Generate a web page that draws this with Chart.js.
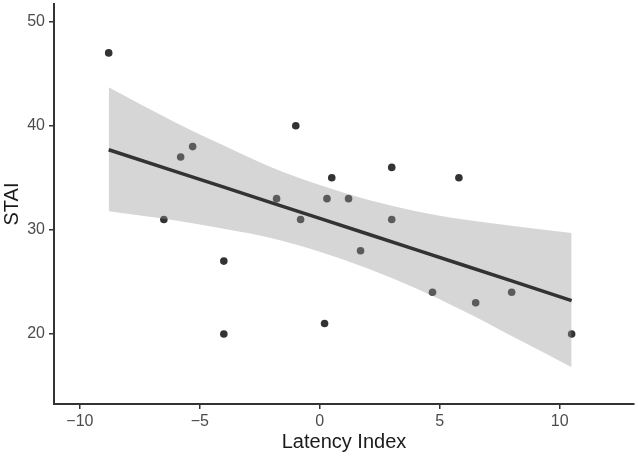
<!DOCTYPE html>
<html>
<head>
<meta charset="utf-8">
<script src="https://cdn.jsdelivr.net/npm/chart.js@4"></script>
<style>
  body { margin: 0; background: #fff; }
  #wrap { width: 638px; height: 456px; }
</style>
</head>
<body>
<div id="wrap"><canvas id="myChart"></canvas></div>
<script>
// observed points
const latencyX = [-8.8, -6.5, -5.8, -5.3, -4, -4, -1.8, -1, -0.8, 0.5, 0.3, 1.2, 3, 5.8, 3, 1.7, 0.2, 4.7, 6.5, 8, 10.5];
const staiY    = [47, 31, 37, 38, 27, 20, 33, 40, 31, 35, 33, 33, 36, 35, 31, 28, 21, 24, 23, 24, 20];

// fitted line + confidence band
const bandX     = [-8.8, -6, -4, -2, 0, 2, 4, 6, 8, 10.5];
const fitY      = [37.7, 35.6, 34.1, 32.6, 31.1, 29.6, 28.1, 26.6, 25.1, 23.2];
const bandUpper = [43.7, 40.3, 38.1, 36.0, 34.3, 32.9, 31.8, 31.0, 30.4, 29.7];
const bandLower = [31.8, 30.9, 30.1, 29.2, 27.9, 26.3, 24.4, 22.2, 19.8, 16.8];

const xTicks = [-10, -5, 0, 5, 10];
const yTicks = [20, 30, 40, 50];

const ctx = document.getElementById('myChart').getContext('2d');
const font = "'Liberation Sans', Arial, sans-serif";

function pts(xs, ys) {
  return xs.map(function(x, i) { return { x: x, y: ys[i] }; });
}

function minus(v) {
  return String(v).replace('-', '\u2212');
}

new Chart(ctx, {
  type: 'scatter',
  data: {
    datasets: [
      {
        type: 'line',
        label: 'fit',
        data: pts(bandX, fitY),
        borderColor: '#333333',
        borderWidth: 3.5,
        pointRadius: 0,
        fill: false,
        order: 0
      },
      {
        type: 'line',
        label: 'upper',
        data: pts(bandX, bandUpper),
        borderWidth: 0,
        borderColor: 'rgba(0,0,0,0)',
        pointRadius: 0,
        cubicInterpolationMode: 'monotone',
        backgroundColor: 'rgba(153,153,153,0.4)',
        fill: '+1',
        order: 1
      },
      {
        type: 'line',
        label: 'lower',
        data: pts(bandX, bandLower),
        borderWidth: 0,
        borderColor: 'rgba(0,0,0,0)',
        pointRadius: 0,
        cubicInterpolationMode: 'monotone',
        fill: false,
        order: 1
      },
      {
        label: 'STAI',
        data: pts(latencyX, staiY),
        backgroundColor: '#333333',
        borderWidth: 0,
        pointRadius: 3.8,
        order: 2
      }
    ]
  },
  options: {
    responsive: true,
    maintainAspectRatio: false,
    animation: false,
    layout: { padding: { top: 3, right: 3, left: 0, bottom: 0 } },
    plugins: {
      legend: { display: false },
      tooltip: { enabled: false }
    },
    scales: {
      x: {
        type: 'linear',
        min: -11.08,
        max: 13.1,
        afterFit: function(scale) {
          scale.height = 52;
          scale.paddingLeft = 0;
          scale.paddingRight = 0;
        },
        afterBuildTicks: function(scale) {
          scale.ticks = xTicks.map(function(v) { return { value: v }; });
        },
        grid: { drawOnChartArea: false, drawTicks: true, tickLength: 5, color: '#333333', lineWidth: 1.5 },
        border: { display: true, color: '#333333', width: 2 },
        ticks: {
          padding: 3,
          color: '#4d4d4d',
          font: { family: font, size: 16 },
          callback: function(v) { return minus(v); }
        },
        title: {
          display: true,
          text: 'Latency Index',
          color: '#1a1a1a',
          font: { family: font, size: 20 },
          padding: { top: 0, bottom: 2 }
        }
      },
      y: {
        min: 13.27,
        max: 51.7,
        afterFit: function(scale) {
          scale.width = 54;
          scale.paddingTop = 0;
          scale.paddingBottom = 0;
        },
        afterBuildTicks: function(scale) {
          scale.ticks = yTicks.map(function(v) { return { value: v }; });
        },
        grid: { drawOnChartArea: false, drawTicks: true, tickLength: 5, color: '#333333', lineWidth: 1.5 },
        border: { display: true, color: '#333333', width: 2 },
        ticks: {
          padding: 4,
          color: '#4d4d4d',
          font: { family: font, size: 16 }
        },
        title: {
          display: true,
          text: 'STAI',
          color: '#1a1a1a',
          font: { family: font, size: 20 },
          padding: { top: 0, bottom: 0 }
        }
      }
    }
  }
});
</script>
</body>
</html>
